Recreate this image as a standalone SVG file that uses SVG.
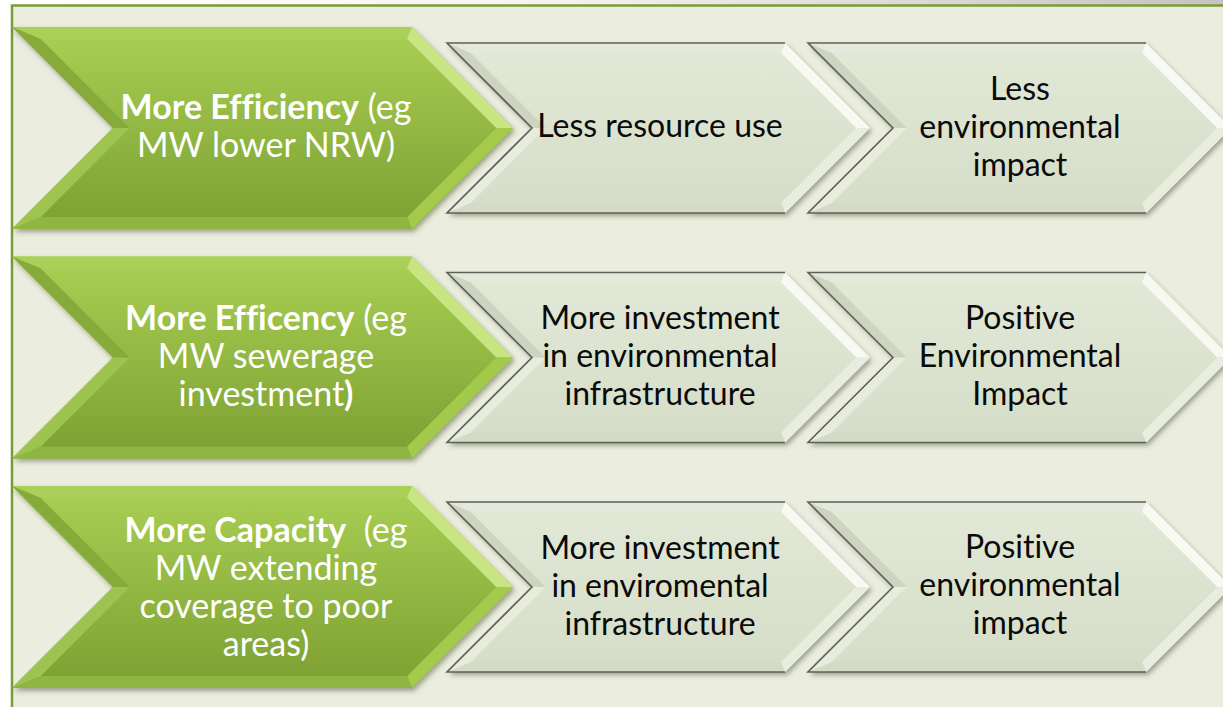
<svg xmlns="http://www.w3.org/2000/svg" xmlns:xlink="http://www.w3.org/1999/xlink" width="1223" height="707" viewBox="0 0 1223 707">
<style>
.gt{font-family:Lato,"Open Sans",sans-serif;font-size:34px;fill:#ffffff;text-anchor:middle;font-variant-ligatures:none}
.dt{font-family:Lato,"Open Sans",sans-serif;font-size:32px;fill:#0a0a0a;text-anchor:middle;font-variant-ligatures:none}
.b{font-weight:bold}
</style>
<defs>
<linearGradient id="topg" x1="0" y1="0" x2="1" y2="0">
<stop offset="0" stop-color="#ffffff"/><stop offset="0.45" stop-color="#f4f4f4"/><stop offset="1" stop-color="#c4c4c4"/>
</linearGradient>
<linearGradient id="gbody" x1="0" y1="0" x2="0" y2="1">
<stop offset="0" stop-color="#a7cd52"/><stop offset="1" stop-color="#7fa234"/>
</linearGradient>
<linearGradient id="sbody" x1="0" y1="0" x2="0" y2="1">
<stop offset="0" stop-color="#e1e8d6"/><stop offset="1" stop-color="#d6dec9"/>
</linearGradient>
<filter id="sh" x="-5%" y="-5%" width="115%" height="120%">
<feDropShadow dx="2" dy="3" stdDeviation="2.5" flood-color="#3a4020" flood-opacity="0.45"/>
</filter>
<g id="greenShape">
<polygon points="0,0 400,0 501,101 400,202 0,202 101,101" fill="url(#gbody)" filter="url(#sh)"/>
<polygon points="0,0 400,0 395,12 29,12" fill="#abd05a"/>
<polygon points="400,0 501,101 484,101 395,12" fill="#c9e483"/>
<polygon points="501,101 400,202 395,190 484,101" fill="#a3ca4b"/>
<polygon points="400,202 0,202 29,190 395,190" fill="#8fb542"/>
<polygon points="0,202 101,101 118,101 29,190" fill="#9dc450"/>
<polygon points="101,101 0,0 29,12 118,101" fill="#86ab3a"/>
<polygon points="29,12 395,12 484,101 395,190 29,190 118,101" fill="url(#gbody)"/>
</g>
<g id="grayShape">
<polygon points="0,0 338,0 423,85 338,170 0,170 85,85" fill="url(#sbody)" filter="url(#sh)"/>
<polygon points="0,0 338,0 334,10 24,10" fill="#e4eadb"/>
<polygon points="338,0 423,85 409,85 334,10" fill="#f7f9f2"/>
<polygon points="423,85 338,170 334,160 409,85" fill="#e8eddf"/>
<polygon points="338,170 0,170 24,160 334,160" fill="#d3dbc6"/>
<polygon points="0,170 85,85 99,85 24,160" fill="#e7ecdd"/>
<polygon points="85,85 0,0 24,10 99,85" fill="#cdd5c0"/>
<polygon points="24,10 334,10 409,85 334,160 24,160 99,85" fill="url(#sbody)"/>
<polyline points="338,0 0,0 85,85 0,170 338,170" fill="none" stroke="#5e6159" stroke-width="1.6"/>
</g>
</defs>
<rect x="0" y="0" width="1223" height="707" fill="#ffffff"/>
<rect x="0" y="0" width="1223" height="5" fill="url(#topg)"/>
<rect x="12" y="5" width="1211" height="702" fill="#ebeedf"/>
<path d="M12,707 V5.5 H1223" fill="none" stroke="#7b9a3a" stroke-width="2.5"/>

<g id="row1-cause">
<use xlink:href="#greenShape" transform="translate(12,27)"/>
<text class="gt" x="266" y="119"><tspan class="b">More Efficiency</tspan> (eg</text>
<text class="gt" x="266" y="157">MW lower NRW)</text>
</g>
<g id="row1-effect">
<use xlink:href="#grayShape" transform="translate(447,43)"/>
<text class="dt" x="660" y="137">Less resource use</text>
</g>
<g id="row1-outcome">
<use xlink:href="#grayShape" transform="translate(808,43)"/>
<text class="dt" x="1020" y="100">Less</text>
<text class="dt" x="1020" y="138">environmental</text>
<text class="dt" x="1020" y="176">impact</text>
</g>

<g id="row2-cause">
<use xlink:href="#greenShape" transform="translate(12,256.5)"/>
<text class="gt" x="266" y="330"><tspan class="b">More Efficency</tspan> (eg</text>
<text class="gt" x="266" y="368">MW sewerage</text>
<text class="gt" x="266" y="406">investment<tspan class="b">)</tspan></text>
</g>
<g id="row2-effect">
<use xlink:href="#grayShape" transform="translate(447,272.5)"/>
<text class="dt" x="660" y="329">More investment</text>
<text class="dt" x="660" y="367">in environmental</text>
<text class="dt" x="660" y="405">infrastructure</text>
</g>
<g id="row2-outcome">
<use xlink:href="#grayShape" transform="translate(808,272.5)"/>
<text class="dt" x="1020" y="329">Positive</text>
<text class="dt" x="1020" y="367">Environmental</text>
<text class="dt" x="1020" y="405">Impact</text>
</g>

<g id="row3-cause">
<use xlink:href="#greenShape" transform="translate(12,486)"/>
<text class="gt" x="266" y="542" xml:space="preserve"><tspan class="b">More Capacity</tspan>  (eg</text>
<text class="gt" x="266" y="580">MW extending</text>
<text class="gt" x="266" y="618">coverage to poor</text>
<text class="gt" x="266" y="656">areas)</text>
</g>
<g id="row3-effect">
<use xlink:href="#grayShape" transform="translate(447,502)"/>
<text class="dt" x="660" y="559">More investment</text>
<text class="dt" x="660" y="597">in enviromental</text>
<text class="dt" x="660" y="635">infrastructure</text>
</g>
<g id="row3-outcome">
<use xlink:href="#grayShape" transform="translate(808,502)"/>
<text class="dt" x="1020" y="558">Positive</text>
<text class="dt" x="1020" y="596">environmental</text>
<text class="dt" x="1020" y="634">impact</text>
</g>
</svg>
